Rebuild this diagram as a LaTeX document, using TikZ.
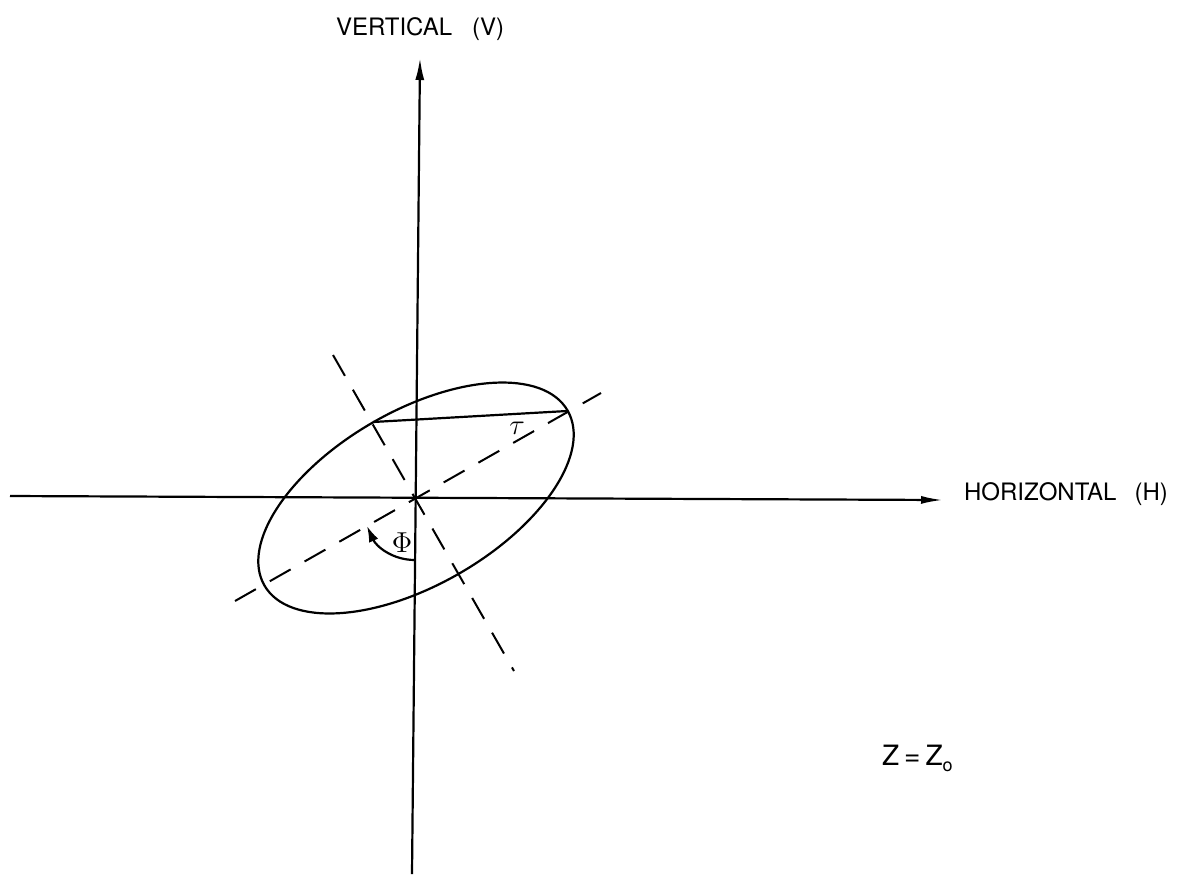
\documentclass[tikz,border=0pt]{standalone}
\usepackage{fontspec}
\newfontfamily\lbl{TeX Gyre Heros}
\usetikzlibrary{arrows.meta}
\begin{document}
\begin{tikzpicture}[x=0.5pt,y=-0.5pt,line width=1.1pt,
  axis/.style={line width=1.1pt},
  dashline/.style={line width=1pt,dash pattern=on 12pt off 8pt},
  lbltext/.style={inner sep=0pt,anchor=base west,font=\lbl\fontsize{12}{14}\selectfont}]
\useasboundingbox (0,0) rectangle (1188,874);
\coordinate (O) at (416,498);
% axes
\coordinate (vb) at (412,874);
\coordinate (vt) at (420,58);
\coordinate (hl) at (10,496);
\coordinate (hr) at (943,500);
\draw[axis,-{Latex[length=11pt,width=4.5pt]}] (vb) -- (vt);
\draw[axis,-{Latex[length=11pt,width=4pt]}] (hl) -- (hr);
% labels
\node[lbltext] (vlab) at (335,35) {VERTICAL\hspace{10pt}(V)};
\node[lbltext] (hlab) at (963,500) {HORIZONTAL\hspace{9pt}(H)};
\node[lbltext,font=\lbl\fontsize{14}{16}\selectfont] (zlab) at (881,765) {Z\hspace{2.5pt}=\hspace{2.5pt}Z\raisebox{-3pt}{\fontsize{9}{9}\selectfont o}};
% dashed principal axes
\coordinate (ma) at (235,601);
\coordinate (mb) at (601,393);
\coordinate (na) at (333,355);
\coordinate (nb) at (514,671);
\draw[dashline] (ma) -- (mb);
\draw[dashline] (na) -- (nb);
% ellipse
\draw[rotate around={30:(O)}] (O) ellipse[x radius=175, y radius=87];
% chord
\coordinate (cL) at (373,422);
\coordinate (cR) at (567,411);
\draw (cL) -- (cR);
\node (tau) at (517,428) {\fontsize{15}{15}\selectfont$\tau$};
% phi arc
\coordinate (ps) at (415,560);
\coordinate (pe) at (367,526);
\draw[-{Latex[length=8pt,width=5pt]}] (ps) .. controls (392,560) and (376,546) .. (pe);
\node (phi) at (402,543) {\fontsize{15}{15}\selectfont$\Phi$};
\end{tikzpicture}
\end{document}
